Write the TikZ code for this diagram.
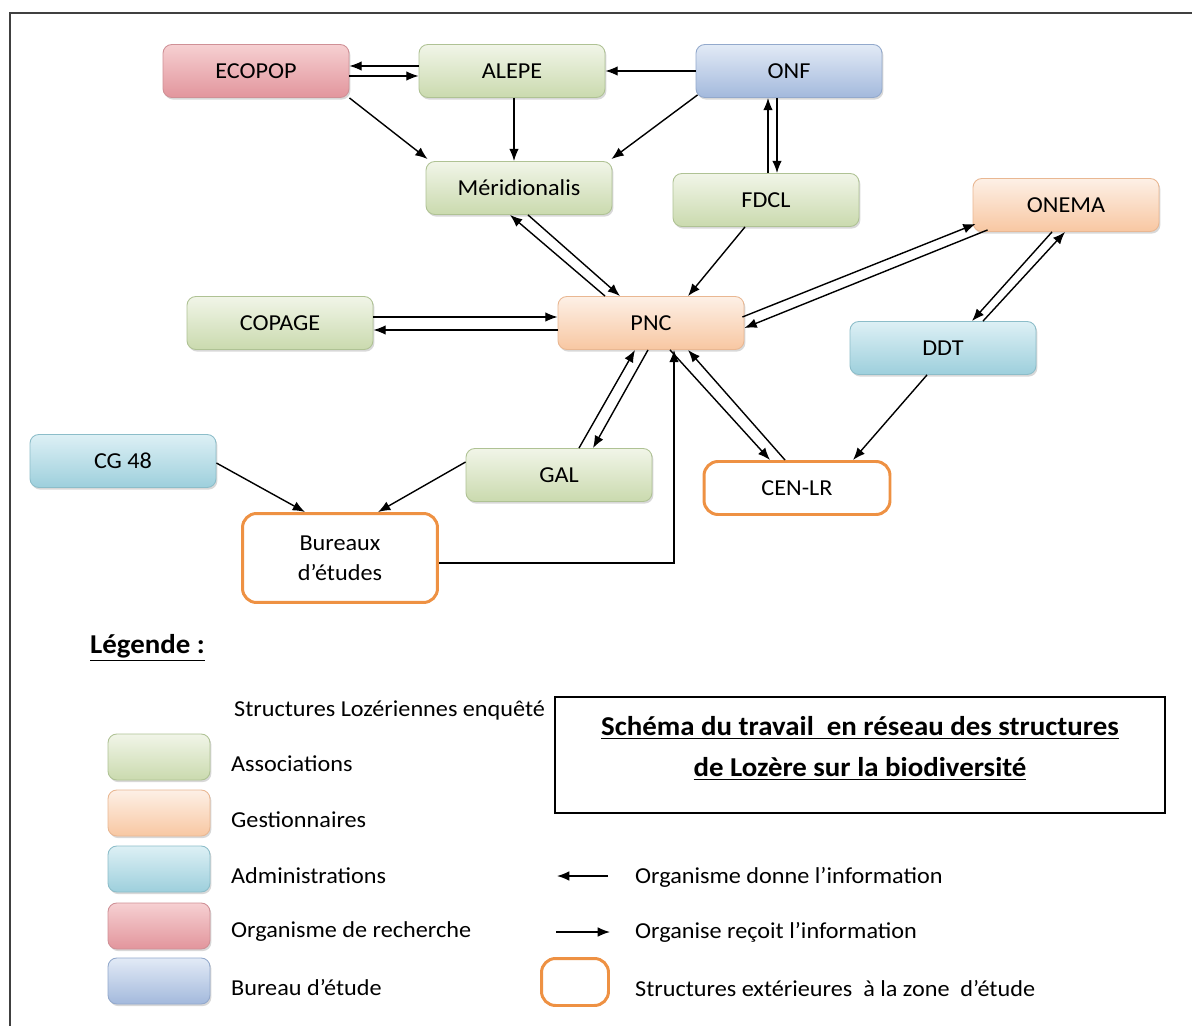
\documentclass[tikz,border=0pt]{standalone}
\usepackage{fontspec}
\setmainfont{Carlito}[FakeStretch=1.06]
\usetikzlibrary{calc,arrows.meta,shadows}

\definecolor{assochaut}{HTML}{F1F5E8}
\definecolor{assocbas}{HTML}{CADAAE}
\definecolor{assocbord}{HTML}{AFC294}
\definecolor{gesthaut}{HTML}{FDF0E6}
\definecolor{gestbas}{HTML}{F8C7A2}
\definecolor{gestbord}{HTML}{E9B792}
\definecolor{adminhaut}{HTML}{DDF0F5}
\definecolor{adminbas}{HTML}{9DCFDC}
\definecolor{adminbord}{HTML}{8CBDC9}
\definecolor{rechhaut}{HTML}{F6D0D2}
\definecolor{rechbas}{HTML}{E2959C}
\definecolor{rechbord}{HTML}{CF9096}
\definecolor{burhaut}{HTML}{E2EAF6}
\definecolor{burbas}{HTML}{A3B9DC}
\definecolor{burbord}{HTML}{93A9CC}
\definecolor{orangeext}{HTML}{EE9143}

\tikzset{
  boite/.style={rounded corners=5pt, minimum width=3.72cm, minimum height=1.06cm,
    font=\fontsize{13}{15}\selectfont, line width=0.5pt,
    drop shadow={shadow xshift=0.8pt, shadow yshift=-1.2pt, opacity=0.3}},
  assoc/.style={boite, draw=assocbord, top color=assochaut, bottom color=assocbas},
  gest/.style={boite, draw=gestbord, top color=gesthaut, bottom color=gestbas},
  admin/.style={boite, draw=adminbord, top color=adminhaut, bottom color=adminbas},
  rech/.style={boite, draw=rechbord, top color=rechhaut, bottom color=rechbas},
  bureau/.style={boite, draw=burbord, top color=burhaut, bottom color=burbas},
  exterieur/.style={rounded corners=8pt, draw=orangeext, line width=1.7pt, fill=white,
    minimum width=3.72cm, minimum height=1.06cm, align=center,
    font=\fontsize{13}{17}\selectfont},
  echantillon/.style={minimum width=2.04cm, minimum height=0.92cm},
  legtexte/.style={anchor=west, font=\fontsize{13}{15}\selectfont},
  fleche/.style={-{Latex[length=7pt,width=5.5pt]}, line width=0.8pt},
}

\begin{document}
\begin{tikzpicture}[x=0.02cm, y=-0.02cm]
\useasboundingbox (0,0) rectangle (1192,1026);
\fill[white] (0,0) rectangle (1192,1026);
\begin{scope}
\clip (0,0) rectangle (1192,1026);
\draw[line width=1.1pt, black!75] (10,13) rectangle (1215,1045);
\end{scope}

% structures
\node[rech] (ecopop) at (256,71) {ECOPOP};
\node[assoc] (alepe) at (512,71) {ALEPE};
\node[bureau] (onf) at (789,71) {ONF};
\node[assoc] (merid) at (519,188) {Méridionalis};
\node[assoc] (fdcl) at (766,200) {FDCL};
\node[gest] (onema) at (1066,205) {ONEMA};
\node[assoc] (copage) at (280,323) {COPAGE};
\node[gest] (pnc) at (651,323) {PNC};
\node[admin] (ddt) at (943,348) {DDT};
\node[admin] (cg) at (123,461) {CG 48};
\node[assoc] (gal) at (559,475) {GAL};
\node[exterieur] (cen) at (797,488) {CEN-LR};
\node[exterieur, minimum width=3.9cm, minimum height=1.78cm] (bureaux) at (340,558) {Bureaux\\d’études};

% echanges
\draw[fleche] ($(alepe.west)+(0,-5)$) -- ($(ecopop.east)+(0,-5)$);
\draw[fleche] ($(ecopop.east)+(0,5)$) -- ($(alepe.west)+(0,5)$);
\draw[fleche] (onf.west) -- (alepe.east);
\draw[fleche] (ecopop.south east) -- ($(merid.north west)+(2,-2)$);
\draw[fleche] ($(alepe.south)+(2,0)$) -- ($(merid.north)+(-5,0)$);
\draw[fleche] ($(onf.south west)+(2,-3)$) -- ($(merid.north east)+(-1,-2)$);
\draw[fleche] ($(fdcl.north)+(2,0)$) -- ($(onf.south)+(-21,0)$);
\draw[fleche] ($(onf.south)+(-12,0)$) -- ($(fdcl.north)+(11,0)$);
\draw[fleche] ($(pnc.north)+(-46,0)$) -- ($(merid.south)+(-9,0)$);
\draw[fleche] ($(merid.south)+(9,0)$) -- ($(pnc.north)+(-31,0)$);
\draw[fleche] ($(fdcl.south)+(-21,0)$) -- ($(pnc.north)+(37,0)$);
\draw[fleche] ($(pnc.east)+(-2,-6)$) -- ($(onema.south west)+(3,-8)$);
\draw[fleche] ($(onema.south west)+(15,-2)$) -- ($(pnc.east)+(0,5)$);
\draw[fleche] ($(onema.south)+(-14,0)$) -- ($(ddt.north)+(29,0)$);
\draw[fleche] ($(ddt.north)+(40,0)$) -- ($(onema.south)+(-1,0)$);
\draw[fleche] ($(ddt.south)+(-16,0)$) -- ($(cen.north)+(56,0)$);
\draw[fleche] ($(pnc.south)+(19,0)$) -- ($(cen.north)+(-27,0)$);
\draw[fleche] ($(cen.north)+(-12,0)$) -- ($(pnc.south)+(37,0)$);
\draw[fleche] ($(gal.north)+(20,0)$) -- ($(pnc.south)+(-16,0)$);
\draw[fleche] ($(pnc.south)+(-3,0)$) -- ($(gal.north)+(34,0)$);
\draw[fleche] ($(copage.east)+(0,-6)$) -- ($(pnc.west)+(0,-6)$);
\draw[fleche] ($(pnc.west)+(0,7)$) -- ($(copage.east)+(0,7)$);
\draw[fleche] ($(cg.east)+(0,2)$) -- ($(bureaux.north)+(-35,0)$);
\draw[fleche] ($(gal.west)+(0,-13)$) -- ($(bureaux.north)+(38,0)$);
\draw[fleche] ($(bureaux.east)+(0,5)$) -| ($(pnc.south)+(23,0)$);

% legende
\node[anchor=west, font=\bfseries\fontsize{15.5}{17}\selectfont] (legende) at (84,648) {\underline{Légende :}};
\node[legtexte] (enquete) at (228,710) {Structures Lozériennes enquêté};
\node[assoc, echantillon] (sw1) at (159,757) {};
\node[gest, echantillon] (sw2) at (159,813) {};
\node[admin, echantillon] (sw3) at (159,869) {};
\node[rech, echantillon] (sw4) at (159,926) {};
\node[bureau, echantillon] (sw5) at (159,981) {};
\node[legtexte] (t1) at (225,764) {Associations};
\node[legtexte] (t2) at (225,820) {Gestionnaires};
\node[legtexte] (t3) at (225,876) {Administrations};
\node[legtexte] (t4) at (225,932) {Organisme de recherche};
\node[legtexte] (t5) at (225,988) {Bureau d’étude};

\node[draw, line width=0.8pt, minimum width=12.2cm, minimum height=2.32cm, align=center,
  font=\bfseries\fontsize{15.5}{23.5}\selectfont] (titre) at (860,755)
  {\underline{Schéma du travail\ \ en réseau des structures}\\\underline{de Lozère sur la biodiversité}\\[-14pt]\mbox{}};

\coordinate (d1) at (608,876);
\coordinate (g1) at (557,876);
\draw[fleche] (d1) -- (g1);
\node[legtexte] (donne) at (629,877) {Organisme donne l’information};
\coordinate (g2) at (556,932);
\coordinate (d2) at (610,932);
\draw[fleche] (g2) -- (d2);
\node[legtexte] (recoit) at (629,932) {Organise reçoit l’information};
\node[exterieur, minimum width=1.34cm, minimum height=0.94cm] (ext) at (575,982) {};
\node[legtexte] (exttexte) at (629,989) {Structures extérieures\ \ à la zone\ \ d’étude};
\end{tikzpicture}
\end{document}
